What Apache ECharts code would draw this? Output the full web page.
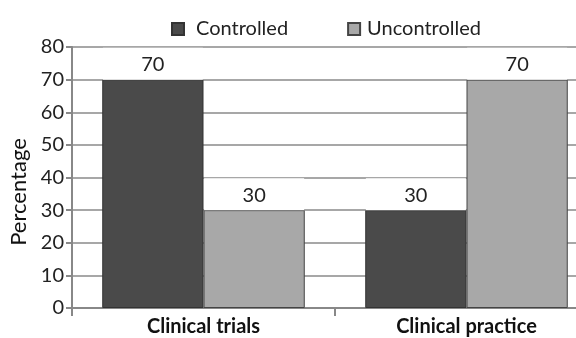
<!DOCTYPE html>
<html>
<head>
<meta charset="utf-8">
<script src="https://cdn.jsdelivr.net/npm/echarts@6/dist/echarts.min.js"></script>
<style>
  html, body { margin: 0; padding: 0; background: #fff; }
  #chartData { width: 576px; height: 338px; }
</style>
</head>
<body>
<div id="chartData"></div>
<script>
var categories = ['Clinical trials', 'Clinical practice'];
var controlled = [70, 30];
var uncontrolled = [30, 70];
var yTicks = [0, 10, 20, 30, 40, 50, 60, 70, 80];

var fontName = 'Lato';

var myChart = echarts.init(document.getElementById('chartData'));

// 柱顶数值标签，白底盖住网格线
var barLabel = {
    show: true,
    position: 'top',
    distance: 0,
    color: '#222',
    fontFamily: fontName,
    fontSize: 20,
    backgroundColor: '#fff',
    width: 100,
    height: 30,
    lineHeight: 30,
    padding: [2, 0, 0, 0],
    align: 'center'
};

var option = {
    animation: false,
    textStyle: { fontFamily: fontName },
    legend: {
        top: 19,
        left: 171,
        padding: 0,
        itemGap: 59,
        itemWidth: 12,
        itemHeight: 12,
        icon: 'rect',
        textStyle: { fontSize: 20, color: '#222', fontFamily: fontName },
        data: [
            { name: 'Controlled', textStyle: { padding: [0, 0, 0, 7] } },
            { name: 'Uncontrolled', textStyle: { padding: [0, 0, 0, 2] } }
        ]
    },
    grid: {
        left: 72,
        top: 47,
        bottom: 30,
        right: -22,
        outerBoundsMode: 'none'
    },
    xAxis: {
        type: 'category',
        data: categories,
        axisLine: { lineStyle: { color: '#888', width: 2 } },
        axisTick: { show: true, length: 8, lineStyle: { color: '#888', width: 2 } },
        axisLabel: {
            color: '#111',
            fontSize: 20,
            fontWeight: 'bold',
            fontFamily: fontName,
            margin: 9
        }
    },
    yAxis: {
        type: 'value',
        min: yTicks[0],
        max: yTicks[yTicks.length - 1],
        interval: 10,
        name: 'Percentage',
        nameLocation: 'middle',
        nameGap: 40,
        nameTextStyle: { fontSize: 22, color: '#111', fontFamily: fontName, padding: [0, 29, 0, 0] },
        axisLine: { show: true, lineStyle: { color: '#888', width: 2 } },
        axisTick: { show: true, length: 6, lineStyle: { color: '#888', width: 2 } },
        axisLabel: { color: '#222', fontSize: 20, fontFamily: fontName, margin: 8 },
        splitLine: { lineStyle: { color: '#8a8a8a', width: 1.5 } }
    },
    series: [{
        name: 'Controlled',
        type: 'bar',
        barGap: 0,
        barCategoryGap: '23%',
        itemStyle: { color: '#4a4a4a', borderColor: '#333', borderWidth: 1 },
        label: barLabel,
        data: controlled
    }, {
        name: 'Uncontrolled',
        type: 'bar',
        itemStyle: { color: '#a8a8a8', borderColor: '#444', borderWidth: 1 },
        label: barLabel,
        data: uncontrolled
    }]
};

myChart.setOption(option);
</script>
</body>
</html>
